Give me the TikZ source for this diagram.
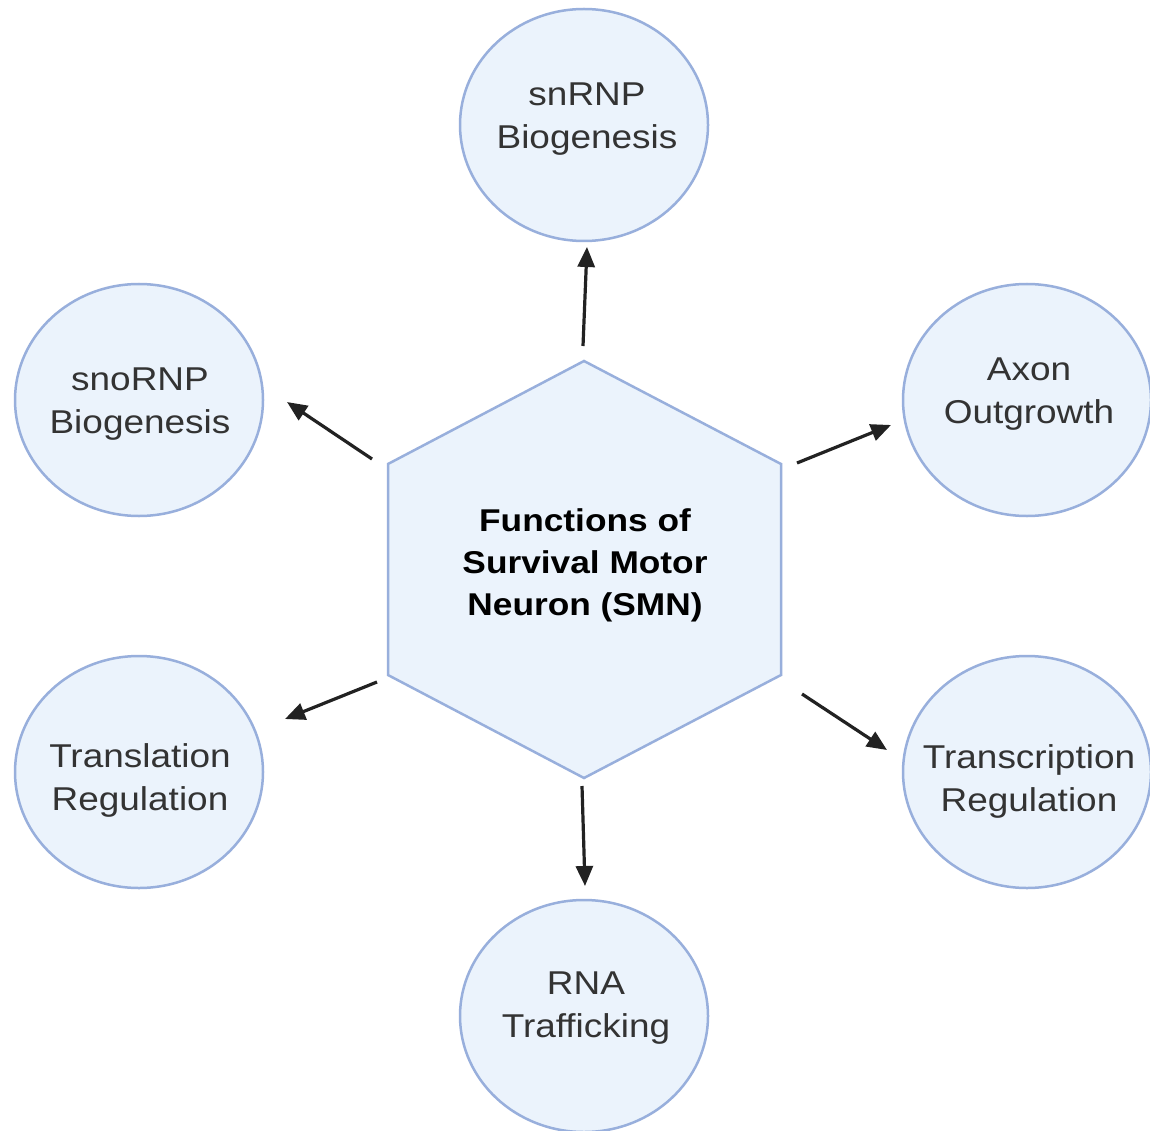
\documentclass[tikz,border=0pt]{standalone}
\usepackage{fontspec}
\setmainfont{Liberation Sans}[FakeStretch=1.12]
\usetikzlibrary{arrows.meta,shapes.geometric}
\definecolor{cfill}{HTML}{EBF3FC}
\definecolor{cedge}{HTML}{98AFDC}
\definecolor{ctext}{HTML}{333333}
\definecolor{carrow}{HTML}{222222}
\begin{document}
\begin{tikzpicture}[x=1pt,y=-1pt,
  bubble/.style={ellipse,draw=cedge,fill=cfill,line width=2.5pt,minimum width=248pt,minimum height=232pt,inner sep=0pt},
  label/.style={align=center,text=ctext,font=\fontsize{33}{43}\selectfont,inner sep=0pt},
  core/.style={align=center,text=black,font=\fontsize{31.5}{42}\selectfont\bfseries,inner sep=0pt},
  link/.style={draw=carrow,line width=3.2pt,-{Triangle[length=20pt,width=17pt]}}]
\useasboundingbox[fill=white] (0,0) rectangle (1150,1131);
% hexagon
\coordinate (h1) at (584,361);
\coordinate (h2) at (781,464);
\coordinate (h3) at (781,675);
\coordinate (h4) at (584,778);
\coordinate (h5) at (388,675);
\coordinate (h6) at (388,464);
\draw[draw=cedge,fill=cfill,line width=2.5pt,line join=miter] (h1) -- (h2) -- (h3) -- (h4) -- (h5) -- (h6) -- cycle;
\node[core] (smn) at (585,565) {Functions of\\Survival Motor\\Neuron (SMN)};
% bubbles
\node[bubble] (snrnp) at (584,125) {};
\node[bubble] (snornp) at (139,400) {};
\node[bubble] (axon) at (1027,400) {};
\node[bubble] (transl) at (139,772) {};
\node[bubble] (transc) at (1027,772) {};
\node[bubble] (rna) at (584,1016) {};
\node[label] (snrnpt) at (587,119) {snRNP\\Biogenesis};
\node[label] (snornpt) at (140,404) {snoRNP\\Biogenesis};
\node[label] (axont) at (1029,394) {Axon\\Outgrowth};
\node[label] (translt) at (140,780) {Translation\\Regulation};
\node[label] (transct) at (1029,781) {Transcription\\Regulation};
\node[label] (rnat) at (586,1008) {RNA\\Trafficking};
% arrow end points
\coordinate (a1s) at (583,346);
\coordinate (a1e) at (587,247);
\coordinate (a2s) at (372,459);
\coordinate (a2e) at (287,402);
\coordinate (a3s) at (797,463);
\coordinate (a3e) at (891,425);
\coordinate (a4s) at (377,682);
\coordinate (a4e) at (285,719);
\coordinate (a5s) at (802,694);
\coordinate (a5e) at (887,750);
\coordinate (a6s) at (582,786);
\coordinate (a6e) at (585,886);
\draw[link] (a1s) -- (a1e);
\draw[link] (a2s) -- (a2e);
\draw[link] (a3s) -- (a3e);
\draw[link] (a4s) -- (a4e);
\draw[link] (a5s) -- (a5e);
\draw[link] (a6s) -- (a6e);
\end{tikzpicture}
\end{document}
